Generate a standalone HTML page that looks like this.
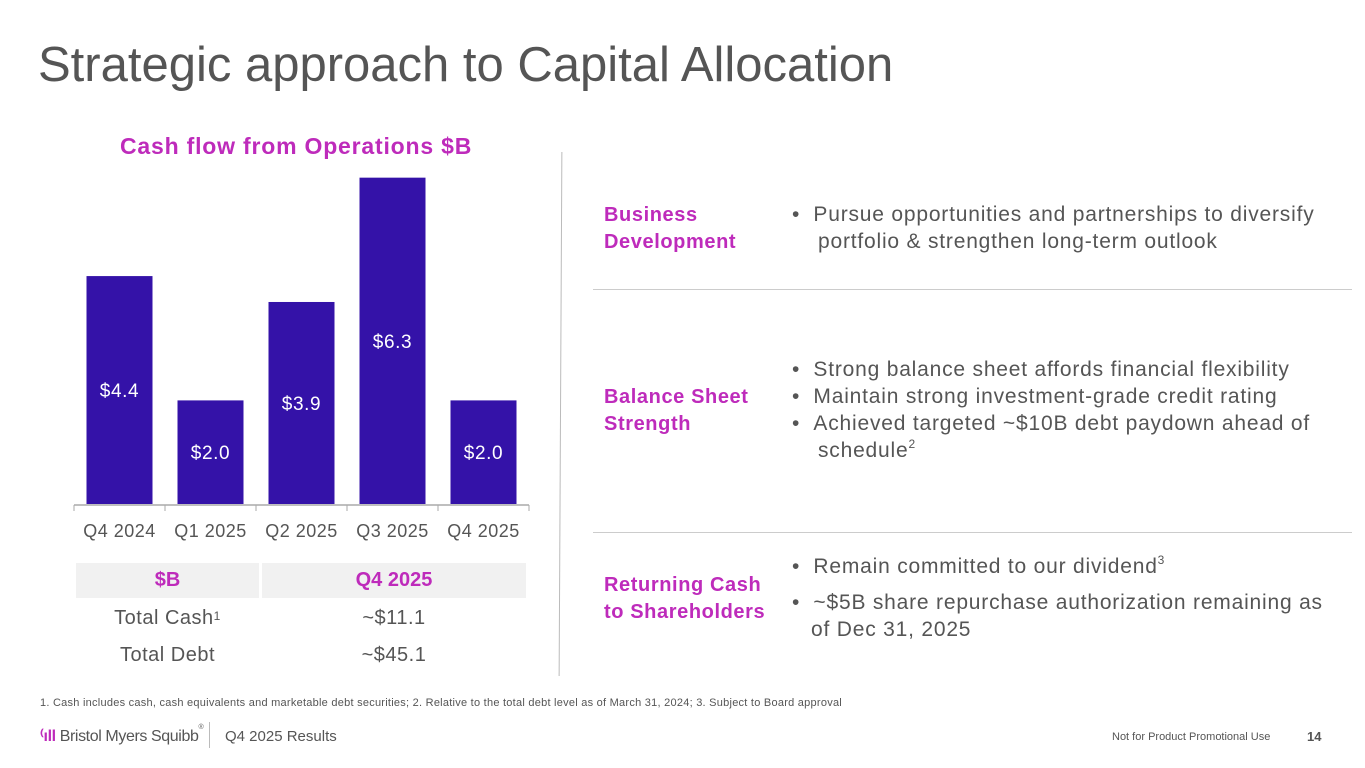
<!DOCTYPE html>
<html><head><meta charset="utf-8"><style>
body{margin:0;width:1365px;height:768px;background:#fff;font-family:"Liberation Sans",sans-serif;position:relative;overflow:hidden;color:#555}
.a{position:absolute;white-space:nowrap}
.p{color:#BE2BBB}
.t{font-size:21px;color:#555;letter-spacing:0.8px}
.h{font-size:20px;color:#BE2BBB;font-weight:bold;letter-spacing:0.6px}
sup{font-size:12px;vertical-align:top;position:relative;top:-2px}
.hr{position:absolute;height:1px;background:#ccc;left:593px;width:759px}
</style></head><body>
<div class="a" style="left:38px;top:37px;font-size:49px;color:#555">Strategic approach to Capital Allocation</div>
<div class="a p" style="left:120px;top:133px;font-size:23px;font-weight:bold;letter-spacing:0.8px">Cash flow from Operations $B</div>
<svg class="a" style="left:0;top:0" width="560" height="560" id="chart"></svg>
<div class="a" style="left:560px;top:152px;width:1px;height:524px;background:#bbb;transform:rotate(0.3deg)"></div>

<div class="a" style="left:76px;top:563px;width:450px">
 <div style="display:flex;height:35px;font-size:20px;font-weight:bold;color:#BE2BBB;line-height:35px;text-align:center">
  <div style="width:183px;background:#f1f1f1">$B</div><div style="width:3px"></div><div style="width:264px;background:#f1f1f1">Q4 2025</div></div>
 <div style="display:flex;height:37px;line-height:40px;font-size:20px;text-align:center;color:#555;letter-spacing:0.5px"><div style="width:183px">Total Cash<sup>1</sup></div><div style="width:3px"></div><div style="width:264px">~$11.1</div></div>
 <div style="display:flex;height:37px;line-height:40px;font-size:20px;text-align:center;color:#555;letter-spacing:0.5px"><div style="width:183px">Total Debt</div><div style="width:3px"></div><div style="width:264px">~$45.1</div></div>
</div>

<div class="a h" style="left:604px;top:204px">Business</div>
<div class="a h" style="left:604px;top:231px">Development</div>
<div class="a t" style="left:792px;top:203px">•&nbsp;&nbsp;Pursue opportunities and partnerships to diversify</div>
<div class="a t" style="left:818px;top:230px">portfolio &amp; strengthen long-term outlook</div>
<div class="hr" style="top:289px"></div>

<div class="a h" style="left:604px;top:386px">Balance Sheet</div>
<div class="a h" style="left:604px;top:413px">Strength</div>
<div class="a t" style="left:792px;top:358px">•&nbsp;&nbsp;Strong balance sheet affords financial flexibility</div>
<div class="a t" style="left:792px;top:385px">•&nbsp;&nbsp;Maintain strong investment-grade credit rating</div>
<div class="a t" style="left:792px;top:412px">•&nbsp;&nbsp;Achieved targeted ~$10B debt paydown ahead of</div>
<div class="a t" style="left:818px;top:439px">schedule<sup>2</sup></div>
<div class="hr" style="top:532px"></div>

<div class="a h" style="left:604px;top:574px">Returning Cash</div>
<div class="a h" style="left:604px;top:601px">to Shareholders</div>
<div class="a t" style="left:792px;top:555px">•&nbsp;&nbsp;Remain committed to our dividend<sup>3</sup></div>
<div class="a t" style="left:792px;top:591px">•&nbsp;&nbsp;~$5B share repurchase authorization remaining as</div>
<div class="a t" style="left:811px;top:618px">of Dec 31, 2025</div>

<div class="a" style="left:40px;top:697px;font-size:11px;color:#555;letter-spacing:0.25px">1. Cash includes cash, cash equivalents and marketable debt securities; 2. Relative to the total debt level as of March 31, 2024; 3. Subject to Board approval</div>
<div class="a" style="left:40px;top:726px;font-size:16px;color:#555;letter-spacing:-0.4px"><span style="color:#BE2BBB;font-weight:bold">⁽ıll</span> Bristol Myers Squibb<sup style="font-size:7px">®</sup></div>
<div class="a" style="left:209px;top:722px;width:1px;height:26px;background:#bbb"></div>
<div class="a" style="left:225px;top:728px;font-size:15px;color:#555">Q4 2025 Results</div>
<div class="a" style="left:1112px;top:731px;font-size:11px;color:#555">Not for Product Promotional Use</div>
<div class="a" style="left:1307px;top:729px;font-size:13px;font-weight:bold;color:#555">14</div>

<script>
const categories=["Q4 2024","Q1 2025","Q2 2025","Q3 2025","Q4 2025"];
const values=[4.4,2.0,3.9,6.3,2.0];
const valueLabels=["$4.4","$2.0","$3.9","$6.3","$2.0"];
const svg=document.getElementById('chart');
const NS="http://www.w3.org/2000/svg";
const x0=74,x1=529,base=504,pxPerUnit=51.8,bw=66;
const step=(x1-x0)/categories.length;
const xs=i=>x0+step*i+step/2;
const ys=v=>base-v*pxPerUnit;
function mk(t,a){const e=document.createElementNS(NS,t);for(const k in a)e.setAttribute(k,a[k]);svg.appendChild(e);return e;}
values.forEach((v,i)=>{
 const r=mk('rect',{x:xs(i)-bw/2,y:ys(v),width:bw,height:base-ys(v),fill:'#3412A8'});
 
 
 const t=mk('text',{x:xs(i),y:(ys(v)+base)/2+7,'text-anchor':'middle',fill:'#fff','font-size':19,'font-family':'Liberation Sans','letter-spacing':0.6});
 t.textContent=valueLabels[i];
 
 
 const c=mk('text',{x:xs(i),y:537,'text-anchor':'middle',fill:'#555','font-size':18,'font-family':'Liberation Sans','letter-spacing':0.5});
 c.textContent=categories[i];
 
 
});
const ax=mk('line',{x1:x0,x2:x1,y1:base+1,y2:base+1,stroke:'#aaa','stroke-width':1.5});


for(let i=0;i<=categories.length;i++){
 const tk=mk('line',{x1:x0+step*i,x2:x0+step*i,y1:base+1,y2:base+7,stroke:'#aaa','stroke-width':1});
 
 
}
</script>
</body></html>
